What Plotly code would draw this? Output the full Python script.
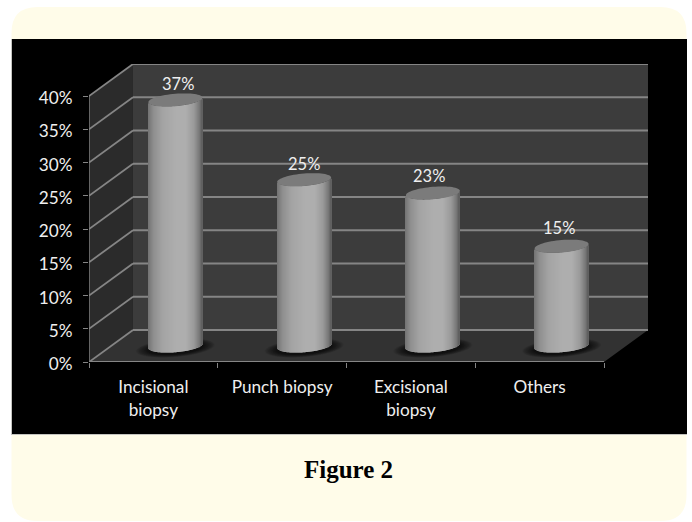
import math
import plotly.graph_objects as go

# Chart content
categories = ["Incisional<br>biopsy", "Punch biopsy", "Excisional<br>biopsy", "Others"]
values = [37, 25, 23, 15]
value_labels = ["37%", "25%", "23%", "15%"]
y_ticks = [0, 5, 10, 15, 20, 25, 30, 35, 40]
caption = "Figure 2"

# Offsets of the value labels from the cylinder tops, in pixels
label_nudge = [3, 0, -4, -3]
label_lift = [16, 15.5, 17, 18.5]

# Page and plot-area geometry, in pixels
W, H = 692, 522
LEFT, RIGHT, TOP, BOTTOM = 89, 648, 64, 362
PX_PER_CAT = 128.75
PX_PER_PCT = 6.65

# Pseudo-3D depth of the box and cylinder shape, in axis units
DEPTH_X = 44 / PX_PER_CAT
DEPTH_Y = 32 / PX_PER_PCT
RADIUS = 27 / PX_PER_CAT
TILT = 2.2 / PX_PER_PCT
MINOR = 6.2 / PX_PER_PCT
N_SLICES = 54

x_max = (RIGHT - LEFT) / PX_PER_CAT
y_max = (BOTTOM - TOP) / PX_PER_PCT
FLOOR_R = len(categories)


def px(v):
    return (v - LEFT) / (RIGHT - LEFT)


def py(v):
    return (BOTTOM - v) / (BOTTOM - TOP)


def rounded_rect(x0, y0, x1, y1, r):
    return (
        f"M{px(x0 + r)},{py(y0)} L{px(x1 - r)},{py(y0)} Q{px(x1)},{py(y0)} {px(x1)},{py(y0 + r)} "
        f"L{px(x1)},{py(y1 - r)} Q{px(x1)},{py(y1)} {px(x1 - r)},{py(y1)} "
        f"L{px(x0 + r)},{py(y1)} Q{px(x0)},{py(y1)} {px(x0)},{py(y1 - r)} "
        f"L{px(x0)},{py(y0 + r)} Q{px(x0)},{py(y0)} {px(x0 + r)},{py(y0)} Z"
    )


def polygon(points):
    return "M" + " L".join(f"{a:.4f},{b:.4f}" for a, b in points) + " Z"


def ellipse_points(cx, cy, scale=1.0, n=64):
    pts = []
    for k in range(n):
        t = 2 * math.pi * k / n
        pts.append((cx + scale * RADIUS * math.cos(t),
                    cy + scale * (TILT * math.cos(t) + MINOR * math.sin(t))))
    return pts


def shade(u):
    stops = [(-1.0, 0x72), (-0.8, 0x8e), (-0.45, 0xa4), (0.05, 0xae), (0.4, 0xae),
             (0.7, 0x9a), (0.9, 0x78), (1.0, 0x5a)]
    for (a, ca), (b, cb) in zip(stops, stops[1:]):
        if a <= u <= b:
            g = round(ca + (cb - ca) * (u - a) / (b - a))
            return f"rgb({g},{g},{g})"
    return "rgb(90,90,90)"


LINE = "#858585"
shapes = [
    dict(type="path", xref="paper", yref="paper", layer="below", line_width=0,
         fillcolor="#fffce9", path=rounded_rect(11.5, 7, 686.5, 521, 26)),
    dict(type="rect", xref="paper", yref="paper", layer="below",
         x0=px(11), x1=px(687), y0=py(435), y1=py(39), fillcolor="#c4c4c0",
         line=dict(width=0)),
    dict(type="rect", xref="paper", yref="paper", layer="below",
         x0=px(12), x1=px(687), y0=py(434), y1=py(39), fillcolor="#000000",
         line=dict(width=0)),
    # Side wall, back wall and floor of the box
    dict(type="path", layer="below", line_width=0, fillcolor="#2b2b2b",
         path=polygon([(0, 0), (DEPTH_X, DEPTH_Y), (DEPTH_X, 40 + DEPTH_Y), (0, 40)])),
    dict(type="path", layer="below", line_width=0, fillcolor="#3c3c3c",
         path=polygon([(DEPTH_X, DEPTH_Y), (x_max, DEPTH_Y), (x_max, 40 + DEPTH_Y), (DEPTH_X, 40 + DEPTH_Y)])),
    dict(type="path", layer="below", line_width=0, fillcolor="#323232",
         path=polygon([(0, 0), (DEPTH_X, DEPTH_Y), (x_max, DEPTH_Y), (FLOOR_R, 0)])),
]

# Gridlines on both walls
for tick in y_ticks:
    for x0, y0, x1, y1 in [(0, tick, DEPTH_X, tick + DEPTH_Y),
                           (DEPTH_X, tick + DEPTH_Y, x_max, tick + DEPTH_Y)]:
        shapes.append(dict(type="line", layer="below", x0=x0, y0=y0, x1=x1, y1=y1,
                           line=dict(color=LINE, width=1.8)))

# Axis lines
shapes.append(dict(type="line", layer="below", x0=0, x1=0, y0=0, y1=40, line=dict(color=LINE, width=1.3)))
shapes.append(dict(type="line", layer="below", x0=0, x1=FLOOR_R, y0=0, y1=0, line=dict(color=LINE, width=1.8)))

# Cylinders: one thin bar per shading slice, ending on the ellipse's lower edge
bar_x, bar_base, bar_height, bar_color = [], [], [], []
annotations = []
slice_w = 2 * RADIUS / N_SLICES
for i, (value, label) in enumerate(zip(values, value_labels)):
    cx = i + 0.5 + DEPTH_X / 2
    cy = DEPTH_Y / 2

    # Soft contact shadow on the floor
    for s in range(16):
        scale = 1.46 - s * 0.03
        shapes.append(dict(type="path", layer="below", line_width=0,
                           fillcolor="rgba(0,0,0,0.05)",
                           path=polygon(ellipse_points(cx, cy - 0.3, scale))))

    for j in range(N_SLICES):
        u = (j + 0.5) / N_SLICES * 2 - 1
        lower = TILT * u - MINOR * math.sqrt(max(0.0, 1 - u * u))
        bar_x.append(cx + u * RADIUS)
        bar_base.append(cy + lower)
        bar_height.append(value)
        bar_color.append(shade(u))

    # Flat top of the cylinder
    shapes.append(dict(type="path", layer="above", line_width=0, fillcolor="#7b7b7b",
                       path=polygon(ellipse_points(cx, value + cy))))

    annotations.append(dict(x=cx, y=value + cy, text=label, showarrow=False,
                            xshift=label_nudge[i], yshift=label_lift[i], yanchor="middle",
                            font=dict(family="Lato", size=16.5, color="#efefef")))

annotations.append(dict(xref="paper", yref="paper", x=px(348.5), y=py(469), text=f"<b>{caption}</b>",
                        showarrow=False, xanchor="center", yanchor="middle",
                        font=dict(family="Liberation Serif", size=25, color="#000000")))

fig = go.Figure(go.Bar(
    x=bar_x, y=bar_height, base=bar_base, width=slice_w * 1.08,
    marker=dict(color=bar_color, line=dict(width=0)), hoverinfo="skip", showlegend=False,
))

fig.update_layout(
    width=W, height=H, autosize=False, barmode="overlay",
    margin=dict(l=LEFT, r=W - RIGHT, t=TOP, b=H - BOTTOM, pad=0),
    paper_bgcolor="#ffffff", plot_bgcolor="rgba(0,0,0,0)",
    shapes=shapes, annotations=annotations, showlegend=False,
    xaxis=dict(
        range=[0, x_max], showgrid=False, zeroline=False, showline=False,
        tickmode="array", tickvals=[i + 0.5 for i in range(len(categories))], ticktext=categories,
        ticks="", ticklabelstandoff=13, tickangle=0,
        tickfont=dict(family="Lato", size=17.2, color="#efefef"),
        minor=dict(tickmode="array", tickvals=list(range(len(categories) + 1)),
                   ticks="outside", ticklen=5, tickcolor=LINE, tickwidth=1, showgrid=False),
    ),
    yaxis=dict(
        range=[0, y_max], showgrid=False, zeroline=False, showline=False,
        tickmode="array", tickvals=y_ticks, ticktext=[f"{t}%" for t in y_ticks],
        ticks="outside", ticklen=5, tickcolor=LINE, tickwidth=1, ticklabelstandoff=7,
        ticklabelshift=2,
        tickfont=dict(family="Lato", size=17.2, color="#efefef"),
    ),
)

fig.write_html("out.html", config=dict(displayModeBar=False))
